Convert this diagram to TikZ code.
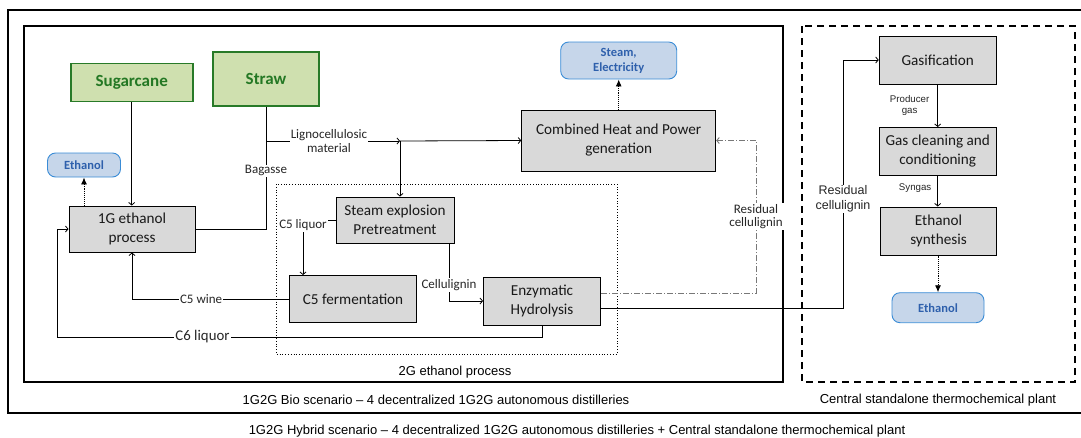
\documentclass[tikz,border=0pt]{standalone}
\usepackage{fontspec}
\setmainfont{Carlito}
\newfontfamily\arialfont{Liberation Sans}
\usetikzlibrary{arrows.meta}

\definecolor{unitgrey}{RGB}{217,217,217}
\definecolor{feedfill}{RGB}{207,224,175}
\definecolor{feedline}{RGB}{40,122,40}
\definecolor{feedtext}{RGB}{36,120,36}
\definecolor{prodfill}{RGB}{198,214,234}
\definecolor{prodline}{RGB}{58,140,214}
\definecolor{prodtext}{RGB}{46,96,172}
\definecolor{residgrey}{RGB}{120,120,120}

\tikzset{
  unit/.style={draw, fill=unitgrey, line width=1pt, align=center, inner sep=1pt,
    text=black!90, font=\fontsize{15.2}{19}\selectfont},
  feedstock/.style={draw=feedline, fill=feedfill, line width=1.8pt, text=feedtext,
    inner sep=1pt, font=\fontsize{17}{20}\selectfont\bfseries},
  product/.style={draw=prodline, fill=prodfill, rounded corners=8pt, line width=0.9pt,
    text=prodtext, align=center, inner sep=1pt, font=\fontsize{12.5}{15}\selectfont\bfseries},
  flow/.style={line width=0.8pt, -{Straight Barb[length=2.5pt,width=6pt]}},
  outflow/.style={line width=0.9pt, densely dotted, -{Latex[length=7pt,width=6pt]}},
  residflow/.style={line width=0.9pt, residgrey, dash pattern=on 6pt off 2pt on 1pt off 2pt,
    -{Straight Barb[length=2.5pt,width=6pt]}},
  flowlabel/.style={fill=white, inner sep=1pt, align=center, text=black!85,
    font=\fontsize{13}{13.5}\selectfont},
  armlabel/.style={fill=white, inner sep=1pt, align=center, text=black!85,
    font=\arialfont\fontsize{12.5}{14.5}\selectfont},
  gaslabel/.style={inner sep=0pt, align=center, text=black!85,
    font=\arialfont\fontsize{9.7}{11}\selectfont},
  caption/.style={inner sep=0pt, font=\arialfont\fontsize{13}{15}\selectfont}
}

\begin{document}
\begin{tikzpicture}[x=1pt, y=-1pt]
  \useasboundingbox (0,0) rectangle (1081,437);
  % frames
  \draw [line width=2pt] (1081,10) -- (8,10) -- (8,413) -- (1081,413);
  \draw [line width=1.1pt] (24,26) rectangle (783,382);
  \draw [line width=1.2pt, dash pattern=on 7pt off 5pt] (802,26) rectangle (1075,382);
  \draw [line width=0.8pt, dotted] (276,184) rectangle (617,354);
  \node [caption] (twog) at (455,372) {2G ethanol process};
  \node [caption] (bio) at (436,400) {1G2G Bio scenario – 4 decentralized 1G2G autonomous distilleries};
  \node [caption] (central) at (938,400) {Central standalone thermochemical plant};
  \node [caption] (hybrid) at (577,431) {1G2G Hybrid scenario – 4 decentralized 1G2G autonomous distilleries + Central standalone thermochemical plant};

  % 1G2G distillery
  \node [feedstock, minimum width=122, minimum height=38] (sugar) at (131.7,82.5) {Sugarcane};
  \node [feedstock, minimum width=106, minimum height=54] (straw) at (266,79) {Straw};
  \node [product, minimum width=73, minimum height=24] (ethL) at (84,165) {Ethanol};
  \node [unit, minimum width=126, minimum height=46] (g1) at (132,229) {1G ethanol\\process};
  \node [unit, minimum width=194, minimum height=61] (chp) at (618.7,140.5) {Combined Heat and Power\\generation};
  \node [product, minimum width=116, minimum height=37] (steam) at (618.7,60.5) {Steam,\\Electricity};
  \node [unit, minimum width=118, minimum height=46] (sep) at (395,220) {Steam explosion\\Pretreatment};
  \node [unit, minimum width=127, minimum height=47] (c5f) at (353,299) {C5 fermentation};
  \node [unit, minimum width=117, minimum height=48] (enz) at (542,301) {Enzymatic\\Hydrolysis};
  \coordinate (jn) at (266,141);
  \coordinate (split) at (400,141);
  \coordinate (c6c) at (57,337);
  \coordinate (rc) at (756,140.5);
  \coordinate (rise) at (843,60);

  \draw [flow] (sugar.south) -- (sugar.south |- g1.north);
  \draw [outflow] (g1.north -| ethL.south) -- (ethL.south);
  \draw [line width=0.8pt] (straw.south) -- (jn);
  \draw [line width=0.8pt] (g1.east) -| (jn) node [flowlabel, pos=0.83] (baglbl) {Bagasse};
  \draw [flow] (jn) -- (split) node [flowlabel, pos=0.47] (liglbl) {Lignocellulosic\\material};
  \draw [flow] (split) -- (chp.west);
  \draw [flow] (split) -- (split |- sep.north);
  \draw [outflow] (chp.north) -- (steam.south);
  \draw [flow] (sep.west) -| ([xshift=-50pt]c5f.north) node [flowlabel, pos=0.55] (c5liq) {C5 liquor};
  \draw [flow] ([xshift=54pt]sep.south) |- (enz.west) node [flowlabel, pos=0.36] (cellbl) {Cellulignin};
  \draw [flow] (c5f.west) -| (g1.south) node [flowlabel, pos=0.28] (winelbl) {C5 wine};
  \draw [flow] (enz.south) |- (c6c) node [flowlabel, pos=0.85, font=\fontsize{14.8}{16}\selectfont] (c6lbl) {C6 liquor} |- (g1.west);
  \draw [residflow] ([yshift=8pt]enz.east) -| (rc) node [flowlabel, pos=0.75] (reslbl) {Residual\\cellulignin} -- (chp.east);

  % central thermochemical plant
  \node [unit, minimum width=117, minimum height=48] (gas) at (937.7,60) {Gasification};
  \node [unit, minimum width=117, minimum height=48] (clean) at (937.7,151.5) {Gas cleaning and\\conditioning};
  \node [unit, minimum width=116, minimum height=48] (synth) at (938.5,231) {Ethanol\\synthesis};
  \node [product, minimum width=92, minimum height=30] (ethR) at (938,307.7) {Ethanol};

  \draw [flow] ([yshift=-7pt]enz.east) -| (rise) node [armlabel, pos=0.72] (reslbl2) {Residual\\cellulignin} -- (gas.west);
  \draw [flow] (gas.south) -- (gas.south |- clean.north) node [gaslabel, midway, left=8pt] (prodlbl) {Producer\\gas};
  \draw [flow] (clean.south) -- (clean.south |- synth.north) node [gaslabel, pos=0.4, left=6pt] (synlbl) {Syngas};
  \draw [outflow] (synth.south -| ethR.north) -- (ethR.north);
\end{tikzpicture}
\end{document}
